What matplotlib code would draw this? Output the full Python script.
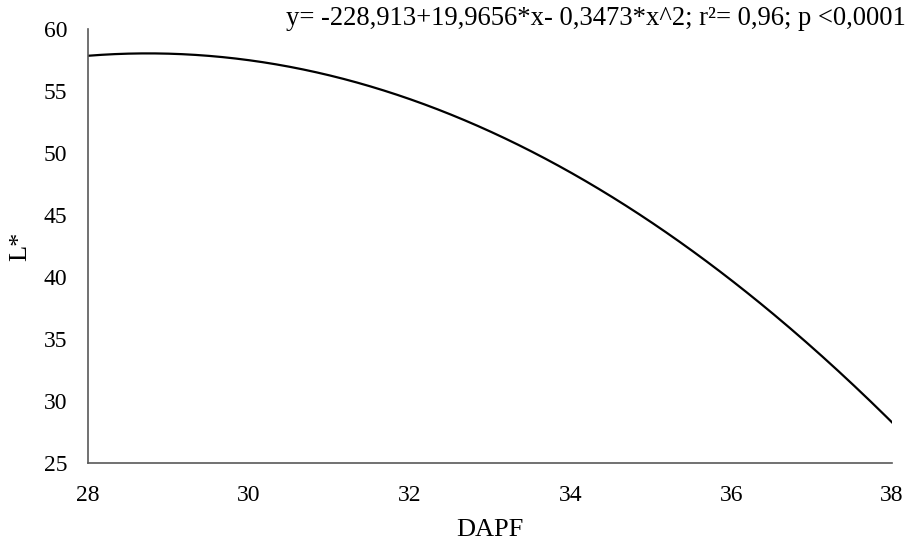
import matplotlib.pyplot as plt
import numpy as np

# Fitted quadratic: L* as a function of DAPF
coef_a = -228.913
coef_b = 19.9656
coef_c = -0.3473
x_range = [28, 38]
x_ticks = [28, 30, 32, 34, 36, 38]
y_ticks = [25, 30, 35, 40, 45, 50, 55, 60]
equation = "y= -228,913+19,9656*x- 0,3473*x^2; r²= 0,96; p <0,0001"

plt.rcParams['font.family'] = ['Liberation Serif', 'DejaVu Serif']

x = np.linspace(x_range[0], x_range[1], 300)
y = coef_a + coef_b * x + coef_c * x ** 2

fig = plt.figure(figsize=(9.1, 5.4), dpi=100)
ax = fig.add_axes([0.0967, 0.1426, 0.8835, 0.8037])
ax.plot(x, y, color="black", linewidth=1.6)

ax.set_xlim(x_range)
ax.set_ylim(25, 60)
ax.set_xticks(x_ticks)
ax.set_yticks(y_ticks)
ax.tick_params(axis="both", length=0, labelsize=17)
ax.tick_params(axis="y", pad=15)
ax.tick_params(axis="x", pad=15.5)
for side in ["top", "right"]:
    ax.spines[side].set_visible(False)
for side in ["left", "bottom"]:
    ax.spines[side].set_color("#595959")
    ax.spines[side].set_linewidth(1.2)

ax.set_xlabel("DAPF", fontsize=19, labelpad=10)
ax.set_ylabel("L*", fontsize=19, labelpad=9)
fig.text(0.995, 0.966, equation, ha="right", va="center", fontsize=19.2)

fig.savefig("out.png", dpi=100)
